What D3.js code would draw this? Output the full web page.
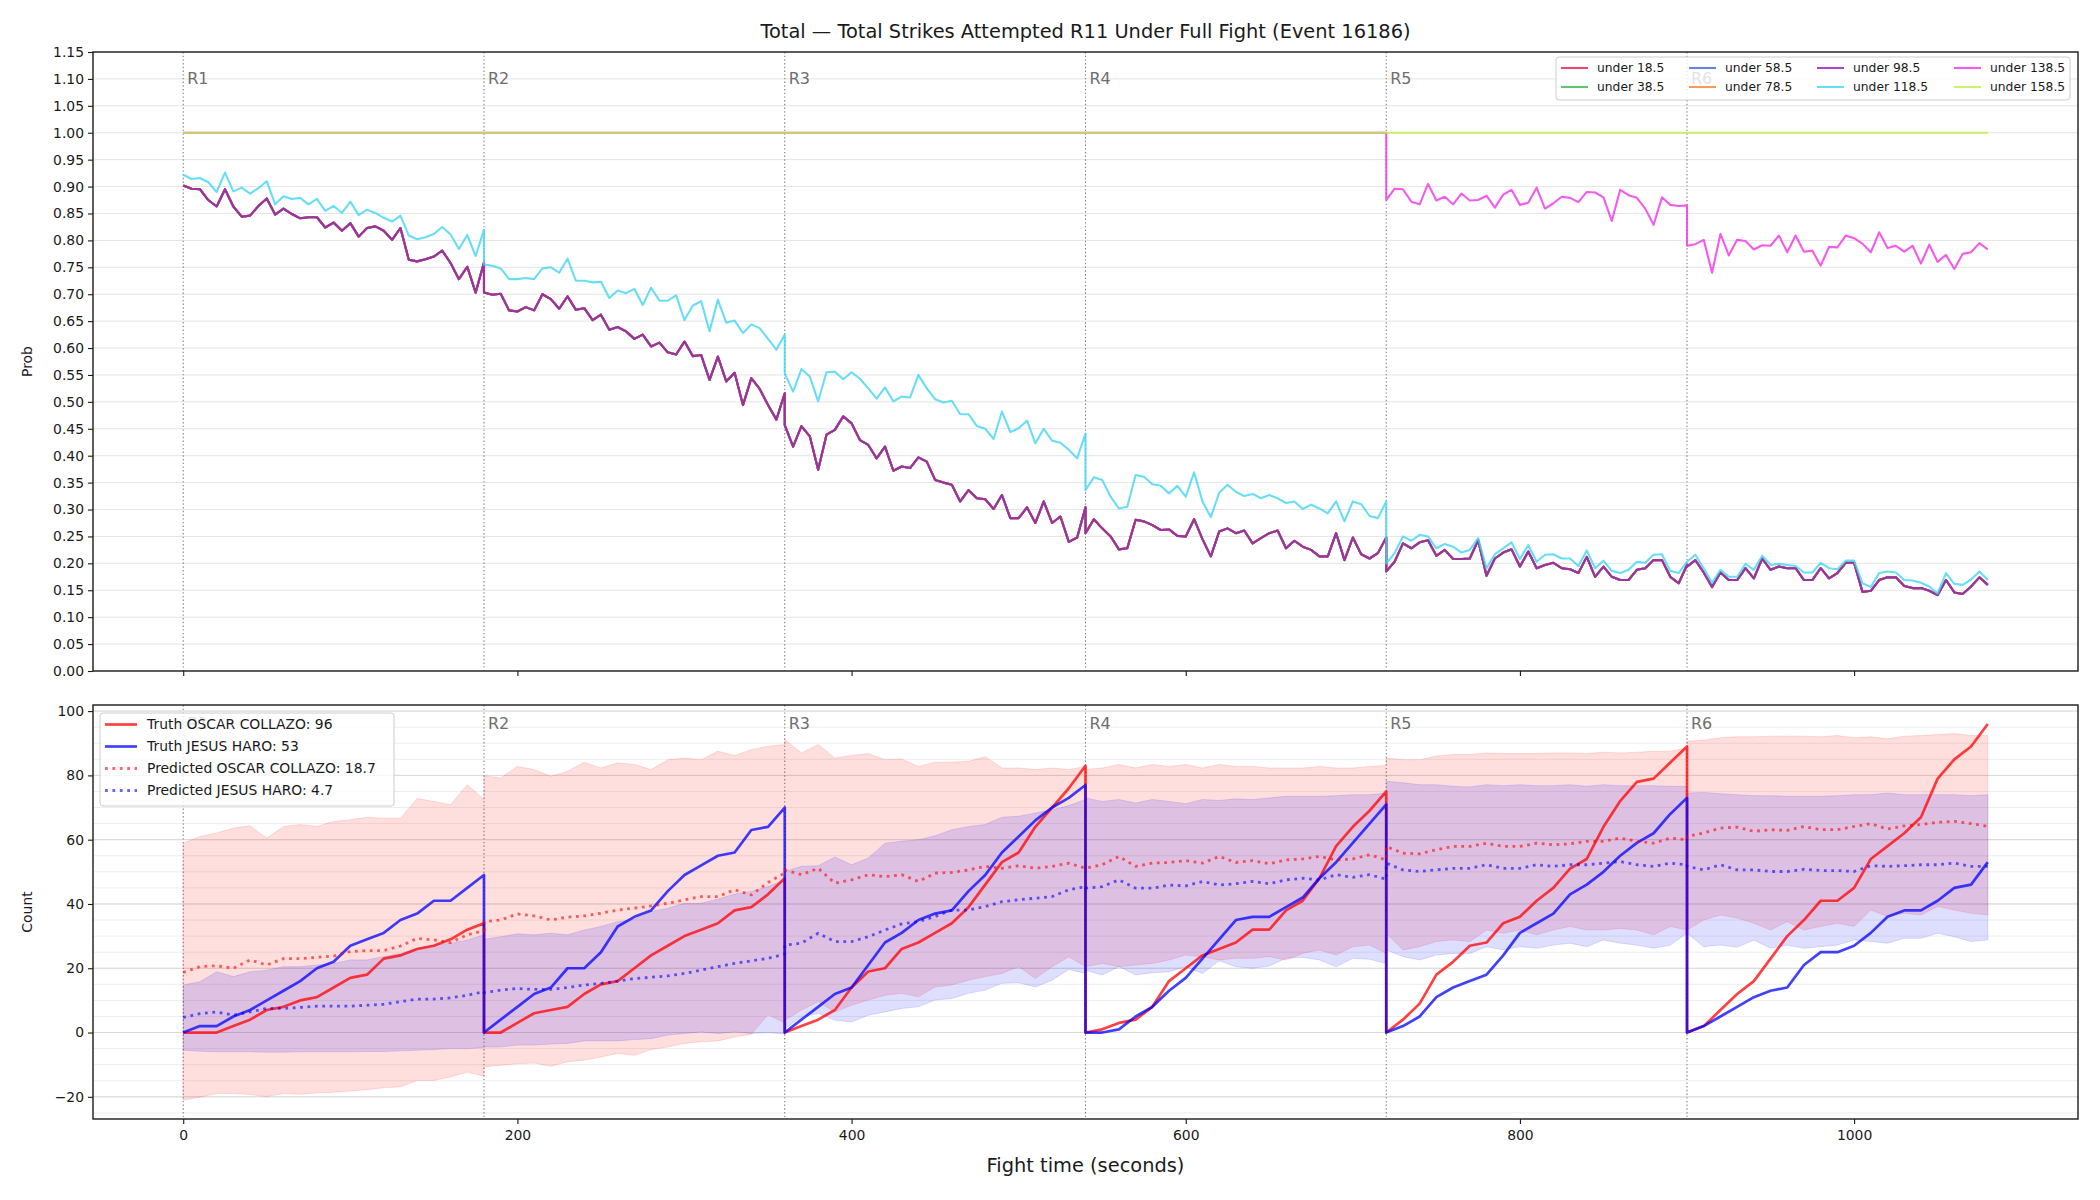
<!DOCTYPE html>
<html>
<head>
<meta charset="utf-8">
<script src="https://cdn.jsdelivr.net/npm/d3@7"></script>
<style>
  body { margin: 0; background: #fff; }
  svg { font-family: "DejaVu Sans", sans-serif; }
</style>
</head>
<body>
<svg id="chart"></svg>
<script>
// ---- data ----
const roundStarts = [0, 180, 360, 540, 720, 900]
const roundLabels = ['R1', 'R2', 'R3', 'R4', 'R5', 'R6']

// top panel is sampled every 5 s inside each round, bottom panel every 10 s
const tTop = roundStarts.flatMap(s => d3.range(0, 181, 5).map(d => s + d))
const tBot = roundStarts.flatMap(s => d3.range(0, 181, 10).map(d => s + d))

// under 18.5 .. under 98.5 lie on top of each other
const clusterProb = [
  0.902,0.896,0.895,0.875,0.863,0.895,0.863,0.844,0.846,0.864,0.878,0.848,0.859,0.849,0.841,0.843,0.843,0.824,0.833,0.818,0.832,0.807,0.823,0.826,0.818,0.801,0.823,0.764,0.761,0.765,0.770,0.781,0.758,0.728,0.751,0.703,0.759,
  0.703,0.699,0.701,0.670,0.668,0.676,0.670,0.700,0.691,0.673,0.696,0.671,0.674,0.652,0.662,0.634,0.639,0.631,0.617,0.625,0.603,0.610,0.592,0.588,0.612,0.585,0.587,0.541,0.584,0.538,0.554,0.494,0.544,0.524,0.494,0.467,0.516,
  0.457,0.417,0.455,0.436,0.374,0.439,0.448,0.473,0.460,0.429,0.420,0.395,0.417,0.372,0.380,0.377,0.397,0.389,0.355,0.350,0.346,0.315,0.336,0.321,0.319,0.301,0.327,0.284,0.284,0.304,0.275,0.315,0.275,0.287,0.240,0.248,0.304,
  0.256,0.282,0.265,0.250,0.226,0.228,0.281,0.278,0.271,0.262,0.263,0.251,0.250,0.282,0.245,0.213,0.259,0.265,0.256,0.261,0.237,0.247,0.256,0.261,0.228,0.242,0.231,0.225,0.213,0.213,0.256,0.206,0.248,0.217,0.209,0.219,0.248,
  0.185,0.203,0.237,0.228,0.239,0.243,0.214,0.225,0.208,0.208,0.209,0.243,0.177,0.209,0.220,0.226,0.194,0.222,0.191,0.197,0.201,0.191,0.189,0.182,0.212,0.175,0.194,0.175,0.169,0.169,0.188,0.191,0.206,0.206,0.175,0.163,0.197,
  0.194,0.206,0.183,0.156,0.183,0.169,0.169,0.191,0.172,0.209,0.188,0.194,0.191,0.191,0.169,0.169,0.191,0.172,0.182,0.201,0.201,0.147,0.149,0.169,0.174,0.174,0.158,0.154,0.154,0.149,0.141,0.169,0.146,0.143,0.157,0.174,0.160
]
const under118Prob = [
  0.922,0.914,0.916,0.908,0.890,0.926,0.891,0.898,0.887,0.897,0.910,0.867,0.882,0.877,0.879,0.867,0.877,0.855,0.864,0.851,0.872,0.847,0.857,0.851,0.842,0.835,0.846,0.809,0.802,0.806,0.812,0.825,0.811,0.784,0.810,0.771,0.820,
  0.755,0.753,0.748,0.728,0.728,0.730,0.728,0.748,0.750,0.740,0.766,0.725,0.725,0.722,0.723,0.693,0.707,0.702,0.710,0.680,0.712,0.688,0.688,0.698,0.652,0.679,0.687,0.631,0.690,0.647,0.651,0.628,0.644,0.637,0.617,0.597,0.625,
  0.553,0.519,0.561,0.547,0.501,0.555,0.556,0.542,0.555,0.543,0.525,0.506,0.527,0.501,0.510,0.508,0.550,0.525,0.505,0.499,0.502,0.477,0.477,0.455,0.450,0.431,0.482,0.444,0.451,0.465,0.423,0.450,0.428,0.424,0.411,0.395,0.441,
  0.336,0.360,0.355,0.324,0.302,0.305,0.364,0.361,0.347,0.344,0.330,0.344,0.324,0.369,0.315,0.286,0.331,0.346,0.333,0.325,0.329,0.321,0.327,0.321,0.312,0.315,0.301,0.309,0.302,0.293,0.315,0.278,0.315,0.310,0.288,0.284,0.315,
  0.200,0.219,0.250,0.242,0.253,0.250,0.228,0.236,0.231,0.220,0.225,0.247,0.191,0.217,0.228,0.239,0.208,0.234,0.203,0.216,0.217,0.209,0.209,0.195,0.224,0.191,0.205,0.186,0.182,0.188,0.203,0.201,0.216,0.217,0.186,0.182,0.203,
  0.203,0.216,0.191,0.164,0.188,0.175,0.175,0.199,0.188,0.214,0.197,0.199,0.197,0.195,0.183,0.183,0.201,0.191,0.189,0.205,0.205,0.163,0.156,0.182,0.185,0.183,0.169,0.168,0.164,0.157,0.144,0.182,0.162,0.160,0.170,0.185,0.169
]
// under 138.5: flat at 1.0 through R1-R4, then R5 and R6 every 5 s
const under138Time = [0, 720].concat(tTop.slice(4 * 37))
const under138Prob = [1, 1,
  0.875,0.896,0.895,0.872,0.867,0.905,0.874,0.881,0.867,0.887,0.874,0.875,0.883,0.861,0.885,0.894,0.866,0.870,0.898,0.859,0.869,0.881,0.879,0.871,0.890,0.889,0.880,0.836,0.894,0.884,0.879,0.859,0.829,0.880,0.866,0.864,0.865,
  0.790,0.793,0.801,0.740,0.812,0.772,0.801,0.799,0.783,0.791,0.790,0.809,0.778,0.809,0.779,0.781,0.753,0.788,0.787,0.809,0.804,0.794,0.778,0.815,0.786,0.790,0.779,0.790,0.757,0.792,0.760,0.773,0.747,0.775,0.778,0.795,0.783
]
const under158Time = [0, 1080]
const under158Prob = [1, 1]

const thresholds = ['under 18.5', 'under 38.5', 'under 58.5', 'under 78.5', 'under 98.5', 'under 118.5', 'under 138.5', 'under 158.5']
const thresholdColors = ['#e6194b', '#3cb44b', '#4363d8', '#f58231', '#911eb4', '#42d4f4', '#f032e6', '#bfef45']

// bottom panel, 19 points per round
const truthCollazo = [
  0,0,0,2,4,7,8,10,11,14,17,18,23,24,26,27,29,32,34,
  0,0,3,6,7,8,12,15,16,20,24,27,30,32,34,38,39,43,48,
  0,2,4,7,14,19,20,26,28,31,34,39,46,53,56,64,70,76,83,
  0,1,3,4,8,16,20,24,26,28,32,32,38,41,48,58,64,69,75,
  0,4,9,18,22,27,28,34,36,41,45,51,54,64,72,78,79,84,89,
  0,2,7,12,16,23,30,35,41,41,45,54,58,62,67,79,85,89,96
]
const truthHaro = [
  0,2,2,5,7,10,13,16,20,22,27,29,31,35,37,41,41,45,49,
  0,4,8,12,14,20,20,25,33,36,38,44,49,52,55,56,63,64,70,
  0,4,8,12,14,21,28,31,35,37,38,44,49,56,61,66,70,73,77,
  0,0,1,5,8,13,17,23,29,35,36,36,39,42,48,53,59,65,71,
  0,2,5,11,14,16,18,24,31,34,37,43,46,50,55,59,62,68,73,
  0,2,5,8,11,13,14,21,25,25,27,31,36,38,38,41,45,46,53
]
const predCollazo = [
  18.7,20.5,20.8,20.0,22.6,21.0,23.0,23.0,23.4,23.8,25.2,25.5,25.5,26.9,29.3,28.8,28.0,30.4,31.7,
  34.5,35.0,36.9,36.3,35.0,35.9,36.3,37.1,38.1,38.7,39.4,40.2,41.3,42.3,42.3,44.4,42.8,46.7,49.6,
  50.6,49.1,51.1,46.5,47.5,49.1,48.5,49.1,47.0,49.6,49.8,50.6,51.7,51.1,51.9,51.1,51.7,52.7,51.1,
  51.1,52.2,54.8,51.7,52.7,52.9,53.5,52.7,54.8,52.9,53.5,52.5,53.7,54.0,54.8,53.7,54.0,55.3,53.7,
  57.9,55.8,55.6,56.9,57.9,57.9,58.9,57.9,57.9,58.9,58.4,58.7,59.5,59.5,60.5,59.5,58.9,60.5,60.0,
  61.0,62.1,63.6,63.9,62.6,63.1,62.9,64.1,63.1,63.1,64.1,65.0,63.3,64.3,64.7,65.4,65.7,65.0,64.1
]
const predHaro = [
  4.7,5.9,6.4,5.4,6.4,7.5,7.5,7.8,8.2,8.2,8.2,8.5,8.8,9.6,10.4,10.4,10.8,11.6,12.7,
  12.4,13.2,13.7,13.4,13.4,14.0,14.8,15.3,16.0,16.8,17.2,17.6,18.4,19.4,20.5,21.5,22.3,23.1,24.4,
  27.2,27.8,30.9,28.3,28.3,29.8,31.9,33.8,34.5,36.1,38.1,38.1,39.2,40.7,41.3,41.8,42.3,44.4,45.4,
  44.9,45.4,47.5,44.9,44.9,45.9,45.6,47.0,45.9,46.3,47.0,46.3,47.5,48.0,47.5,49.1,48.3,49.1,47.7,
  52.7,50.6,50.1,50.6,51.1,51.1,52.2,51.1,51.1,52.2,51.7,52.2,52.2,52.7,53.2,52.2,51.7,52.7,52.2,
  51.7,50.6,52.2,50.6,50.6,50.1,50.1,50.8,50.4,50.4,50.1,51.9,51.7,51.9,52.2,52.2,52.7,51.7,51.7
]
const collazoHigh = [
  58.9,61.0,62.1,63.6,64.3,60.5,64.1,64.7,64.1,65.7,66.2,67.0,66.7,66.7,72.8,71.9,70.9,77.1,72.5,
  79.9,79.2,82.8,81.8,79.7,81.3,84.1,82.3,83.9,83.4,81.8,84.9,85.4,84.9,87.5,86.2,88.0,89.1,89.6,
  91.2,87.0,89.6,85.4,86.2,86.8,84.9,85.1,82.8,84.1,84.1,84.4,85.8,82.3,82.3,81.8,82.3,81.8,82.8,
  81.8,82.3,83.4,82.3,83.4,82.8,83.4,82.3,83.4,82.8,82.8,82.3,82.3,82.3,82.8,82.3,82.3,82.8,83.1,
  85.4,84.9,84.9,86.0,86.5,86.5,87.0,86.8,86.8,86.8,87.0,87.0,86.8,87.2,87.0,87.2,87.5,87.5,88.6,
  90.6,91.0,91.7,92.0,92.0,92.2,92.2,92.2,92.0,92.4,91.7,92.0,91.4,92.2,92.4,92.7,93.0,92.4,92.4
]
const collazoLow = [
  -21.1,-20.1,-19.0,-19.0,-19.3,-19.9,-19.0,-19.2,-18.8,-18.6,-18.2,-17.8,-17.2,-16.9,-14.9,-14.9,-13.8,-12.3,-13.6,
  -10.7,-10.2,-9.7,-9.5,-10.5,-9.1,-8.6,-7.6,-6.5,-7.1,-5.3,-4.5,-3.4,-2.9,-2.6,-1.4,-0.5,5.5,3.0,
  3.8,7.0,9.6,6.4,8.5,10.1,11.6,12.2,11.1,14.2,14.8,16.3,17.4,18.4,20.5,16.8,20.5,23.6,20.5,
  20.5,21.5,20.5,21.0,21.5,22.6,24.1,23.6,22.6,23.1,23.1,23.6,22.6,24.6,25.7,24.1,26.7,27.2,24.6,
  30.9,25.7,26.7,28.3,28.8,28.3,31.9,30.9,31.9,30.4,31.9,33.0,31.9,31.9,32.4,31.9,30.4,33.0,31.9,
  31.9,35.0,36.6,35.6,34.0,31.9,34.5,31.9,33.0,34.0,33.0,38.1,36.1,37.1,36.6,39.2,38.1,37.1,36.6
]
const haroHigh = [
  14.8,15.8,18.9,17.4,18.9,19.4,20.5,20.5,21.0,21.5,22.6,22.6,23.6,24.6,26.2,27.2,27.8,28.8,30.4,
  29.0,29.8,30.7,30.4,30.9,30.4,31.9,33.0,34.5,35.2,37.6,38.7,40.2,40.2,41.5,43.1,43.9,45.4,47.5,
  50.1,51.7,51.9,54.6,52.2,54.3,58.9,59.5,60.0,61.2,63.1,64.1,64.7,67.0,67.3,68.3,69.3,70.6,72.5,
  73.0,71.9,72.5,71.4,72.5,71.9,71.2,72.5,72.2,72.7,72.5,73.0,73.5,73.5,73.5,73.7,74.0,74.0,74.5,
  78.2,77.7,77.1,77.1,76.6,76.4,77.1,76.8,77.1,76.8,76.8,77.1,76.6,77.1,76.8,76.8,76.8,76.6,76.6,
  74.5,74.7,74.3,74.0,73.7,73.7,73.5,73.5,73.5,73.7,74.0,74.0,74.5,74.0,74.0,74.0,74.0,73.7,74.0
]
const haroLow = [
  -5.5,-5.8,-6.0,-6.0,-6.0,-6.1,-6.1,-6.0,-6.0,-6.0,-6.0,-5.9,-5.9,-5.7,-5.5,-5.3,-5.0,-5.0,-4.7,
  -4.5,-4.5,-3.9,-3.9,-3.6,-3.4,-2.6,-2.6,-2.6,-2.2,-1.9,-0.8,-0.3,0.2,-0.3,0.2,-0.3,0.0,-0.5,
  1.2,4.9,5.9,3.8,3.3,5.4,6.4,7.5,8.0,10.1,10.6,12.2,13.2,15.3,15.5,14.2,16.3,19.6,18.4,
  19.4,17.9,20.5,17.9,18.6,18.9,20.5,18.4,22.3,20.5,20.0,20.7,23.1,23.4,22.6,20.5,23.1,22.8,21.5,
  25.7,23.6,22.6,24.1,24.6,24.6,26.7,25.7,26.7,26.2,27.2,27.8,26.7,28.8,27.8,27.2,26.2,27.2,30.9,
  30.9,26.7,27.2,26.5,28.8,26.2,27.2,26.2,26.7,27.2,28.8,28.3,27.8,29.3,29.3,30.9,29.8,28.3,28.8
]

const probTicks = d3.range(0, 24).map(i => i * 0.05)
const countTicks = [-20, 0, 20, 40, 60, 80, 100]
const countMinor = d3.range(-25, 101, 5)
const timeTicks = [0, 200, 400, 600, 800, 1000]

// ---- layout ----
let width = 2100
let height = 1200
let left = 93, right = 2078
let top1 = 52, bottom1 = 671
let top2 = 705, bottom2 = 1119

let svg = d3.select('#chart')
            .attr('width', width)
            .attr('height', height)

let x = d3.scaleLinear().domain([-54, 1134]).range([left, right])
let yProb = d3.scaleLinear().domain([0, 1.15]).range([bottom1, top1])
let yCount = d3.scaleLinear().domain([-26.9, 101.9]).range([bottom2, top2])

const zip = (ts, vs) => ts.map((t, i) => ({ t: t, v: vs[i] }))

svg.append('defs').selectAll('clipPath')
    .data([['clipTop', top1, bottom1], ['clipBot', top2, bottom2]])
    .enter().append('clipPath').attr('id', d => d[0])
    .append('rect').attr('x', left).attr('y', d => d[1])
    .attr('width', right - left).attr('height', d => d[2] - d[1])

// ---- top panel ----
let g1 = svg.append('g').attr('clip-path', 'url(#clipTop)')

g1.selectAll('.grid').data(probTicks).enter().append('line')
    .attr('x1', left).attr('x2', right)
    .attr('y1', d => yProb(d)).attr('y2', d => yProb(d))
    .attr('stroke', '#e5e5e5').attr('stroke-width', 1)

g1.selectAll('.round').data(roundStarts).enter().append('line')
    .attr('x1', d => x(d)).attr('x2', d => x(d))
    .attr('y1', top1).attr('y2', bottom1)
    .attr('stroke', '#808080').attr('stroke-width', 1.1)
    .attr('stroke-dasharray', '1.4,2.3')

g1.selectAll('.rlabel').data(roundStarts).enter().append('text')
    .attr('x', d => x(d) + 4).attr('y', 84)
    .attr('font-size', '16px').attr('fill', '#6e6e6e')
    .text((d, i) => roundLabels[i])

let probSeries = [
  zip(tTop, clusterProb), zip(tTop, clusterProb), zip(tTop, clusterProb), zip(tTop, clusterProb), zip(tTop, clusterProb),
  zip(tTop, under118Prob),
  zip(under138Time, under138Prob),
  zip(under158Time, under158Prob)
]

let probLine = d3.line().x(d => x(d.t)).y(d => yProb(d.v))

g1.selectAll('.prob').data(probSeries).enter().append('path')
    .attr('d', probLine)
    .attr('fill', 'none')
    .attr('stroke', (d, i) => thresholdColors[i])
    .attr('stroke-opacity', 0.8)
    .attr('stroke-width', 2.1)
    .attr('stroke-linejoin', 'round')

// ---- bottom panel ----
let g2 = svg.append('g').attr('clip-path', 'url(#clipBot)')

g2.selectAll('.minor').data(countMinor).enter().append('line')
    .attr('x1', left).attr('x2', right)
    .attr('y1', d => yCount(d)).attr('y2', d => yCount(d))
    .attr('stroke', '#eeeeee').attr('stroke-width', 1)

g2.selectAll('.major').data(countTicks).enter().append('line')
    .attr('x1', left).attr('x2', right)
    .attr('y1', d => yCount(d)).attr('y2', d => yCount(d))
    .attr('stroke', '#d8d8d8').attr('stroke-width', 1)

g2.selectAll('.round').data(roundStarts).enter().append('line')
    .attr('x1', d => x(d)).attr('x2', d => x(d))
    .attr('y1', top2).attr('y2', bottom2)
    .attr('stroke', '#808080').attr('stroke-width', 1.1)
    .attr('stroke-dasharray', '1.4,2.3')

g2.selectAll('.rlabel').data(roundStarts).enter().append('text')
    .attr('x', d => x(d) + 4).attr('y', 729)
    .attr('font-size', '16px').attr('fill', '#6e6e6e')
    .text((d, i) => roundLabels[i])

let bands = [
  { hi: collazoHigh, lo: collazoLow, color: 'rgba(255,0,0,0.13)', edge: 'rgba(255,0,0,0.12)' },
  { hi: haroHigh, lo: haroLow, color: 'rgba(0,0,255,0.13)', edge: 'rgba(0,0,255,0.12)' }
]

let area = d3.area()
    .x(d => x(d.t))
    .y0(d => yCount(d.lo))
    .y1(d => yCount(d.hi))

bands.forEach(b => {
  let pts = tBot.map((t, i) => ({ t: t, lo: b.lo[i], hi: b.hi[i] }))
  g2.append('path').attr('d', area(pts))
      .attr('fill', b.color).attr('stroke', b.edge).attr('stroke-width', 1)
})

let countLine = d3.line().x(d => x(d.t)).y(d => yCount(d.v))

let countSeries = [
  { v: truthCollazo, color: '#ff0000', op: 0.75, w: 2.7, dash: null },
  { v: truthHaro, color: '#0000ff', op: 0.75, w: 2.7, dash: null },
  { v: predCollazo, color: '#ff0000', op: 0.6, w: 2.8, dash: '2.8,4.6' },
  { v: predHaro, color: '#0000ff', op: 0.6, w: 2.8, dash: '2.8,4.6' }
]

g2.selectAll('.count').data(countSeries).enter().append('path')
    .attr('d', d => countLine(zip(tBot, d.v)))
    .attr('fill', 'none')
    .attr('stroke', d => d.color)
    .attr('stroke-opacity', d => d.op)
    .attr('stroke-width', d => d.w)
    .attr('stroke-dasharray', d => d.dash)
    .attr('stroke-linejoin', 'round')

// ---- axes ----
function frame(y0, y1) {
  svg.append('rect').attr('x', left).attr('y', y0)
      .attr('width', right - left).attr('height', y1 - y0)
      .attr('fill', 'none').attr('stroke', '#1a1a1a').attr('stroke-width', 1.4)
}
frame(top1, bottom1)
frame(top2, bottom2)

let axisTop = svg.append('g').attr('transform', `translate(${left},0)`)
    .call(d3.axisLeft(yProb).tickValues(probTicks).tickFormat(d3.format('.2f')).tickSize(5).tickPadding(4))
let axisBotY = svg.append('g').attr('transform', `translate(${left},0)`)
    .call(d3.axisLeft(yCount).tickValues(countTicks).tickFormat(d => d < 0 ? '\u2212' + Math.abs(d) : d).tickSize(5).tickPadding(4))
let axisTopX = svg.append('g').attr('transform', `translate(0,${bottom1})`)
    .call(d3.axisBottom(x).tickValues(timeTicks).tickFormat('').tickSize(5))
let axisBotX = svg.append('g').attr('transform', `translate(0,${bottom2})`)
    .call(d3.axisBottom(x).tickValues(timeTicks).tickFormat(d3.format('d')).tickSize(5).tickPadding(6))

;[axisTop, axisBotY, axisTopX, axisBotX].forEach(a => {
  a.select('.domain').remove()
  a.selectAll('.tick line').attr('stroke', '#1a1a1a').attr('stroke-width', 1.1)
  a.selectAll('.tick text').attr('font-size', '13.9px').attr('fill', '#1a1a1a')
      .attr('font-family', '"DejaVu Sans", sans-serif')
})

svg.append('text').attr('x', (left + right) / 2).attr('y', 38)
    .attr('text-anchor', 'middle').attr('font-size', '19.4px').attr('fill', '#1a1a1a')
    .text('Total \u2014 Total Strikes Attempted R11 Under Full Fight (Event 16186)')

svg.append('text').attr('x', (left + right) / 2).attr('y', 1172)
    .attr('text-anchor', 'middle').attr('font-size', '19.4px').attr('fill', '#1a1a1a')
    .text('Fight time (seconds)')

svg.append('text').attr('transform', `translate(32,${(top1 + bottom1) / 2}) rotate(-90)`)
    .attr('text-anchor', 'middle').attr('font-size', '13.9px').attr('fill', '#1a1a1a')
    .text('Prob')

svg.append('text').attr('transform', `translate(32,${(top2 + bottom2) / 2}) rotate(-90)`)
    .attr('text-anchor', 'middle').attr('font-size', '13.9px').attr('fill', '#1a1a1a')
    .text('Count')

// ---- legends ----
let leg1 = svg.append('g')
leg1.append('rect').attr('x', 1556).attr('y', 57).attr('width', 514).attr('height', 43)
    .attr('rx', 3).attr('fill', 'white').attr('fill-opacity', 0.8)
    .attr('stroke', '#cccccc').attr('stroke-width', 1)
let colX = [1561, 1689, 1817, 1954]
thresholds.forEach((name, i) => {
  let cx = colX[Math.floor(i / 2)]
  let cy = i % 2 === 0 ? 68 : 87
  leg1.append('line').attr('x1', cx).attr('x2', cx + 27).attr('y1', cy).attr('y2', cy)
      .attr('stroke', thresholdColors[i]).attr('stroke-opacity', 0.8).attr('stroke-width', 2.1)
  leg1.append('text').attr('x', cx + 36).attr('y', cy).attr('dy', '0.35em')
      .attr('font-size', '12.3px').attr('fill', '#1a1a1a').text(name)
})

let legendNames = ['Truth OSCAR COLLAZO: 96', 'Truth JESUS HARO: 53', 'Predicted OSCAR COLLAZO: 18.7', 'Predicted JESUS HARO: 4.7']
let leg2 = svg.append('g')
leg2.append('rect').attr('x', 100).attr('y', 713).attr('width', 294).attr('height', 93)
    .attr('rx', 3).attr('fill', 'white').attr('fill-opacity', 0.8)
    .attr('stroke', '#cccccc').attr('stroke-width', 1)
countSeries.forEach((s, i) => {
  let cy = 724.5 + i * 22
  leg2.append('line').attr('x1', 105).attr('x2', 137).attr('y1', cy).attr('y2', cy)
      .attr('stroke', s.color).attr('stroke-opacity', s.op).attr('stroke-width', s.w)
      .attr('stroke-dasharray', s.dash)
  leg2.append('text').attr('x', 147).attr('y', cy).attr('dy', '0.35em')
      .attr('font-size', '13.9px').attr('fill', '#1a1a1a').text(legendNames[i])
})
</script>
</body>
</html>
